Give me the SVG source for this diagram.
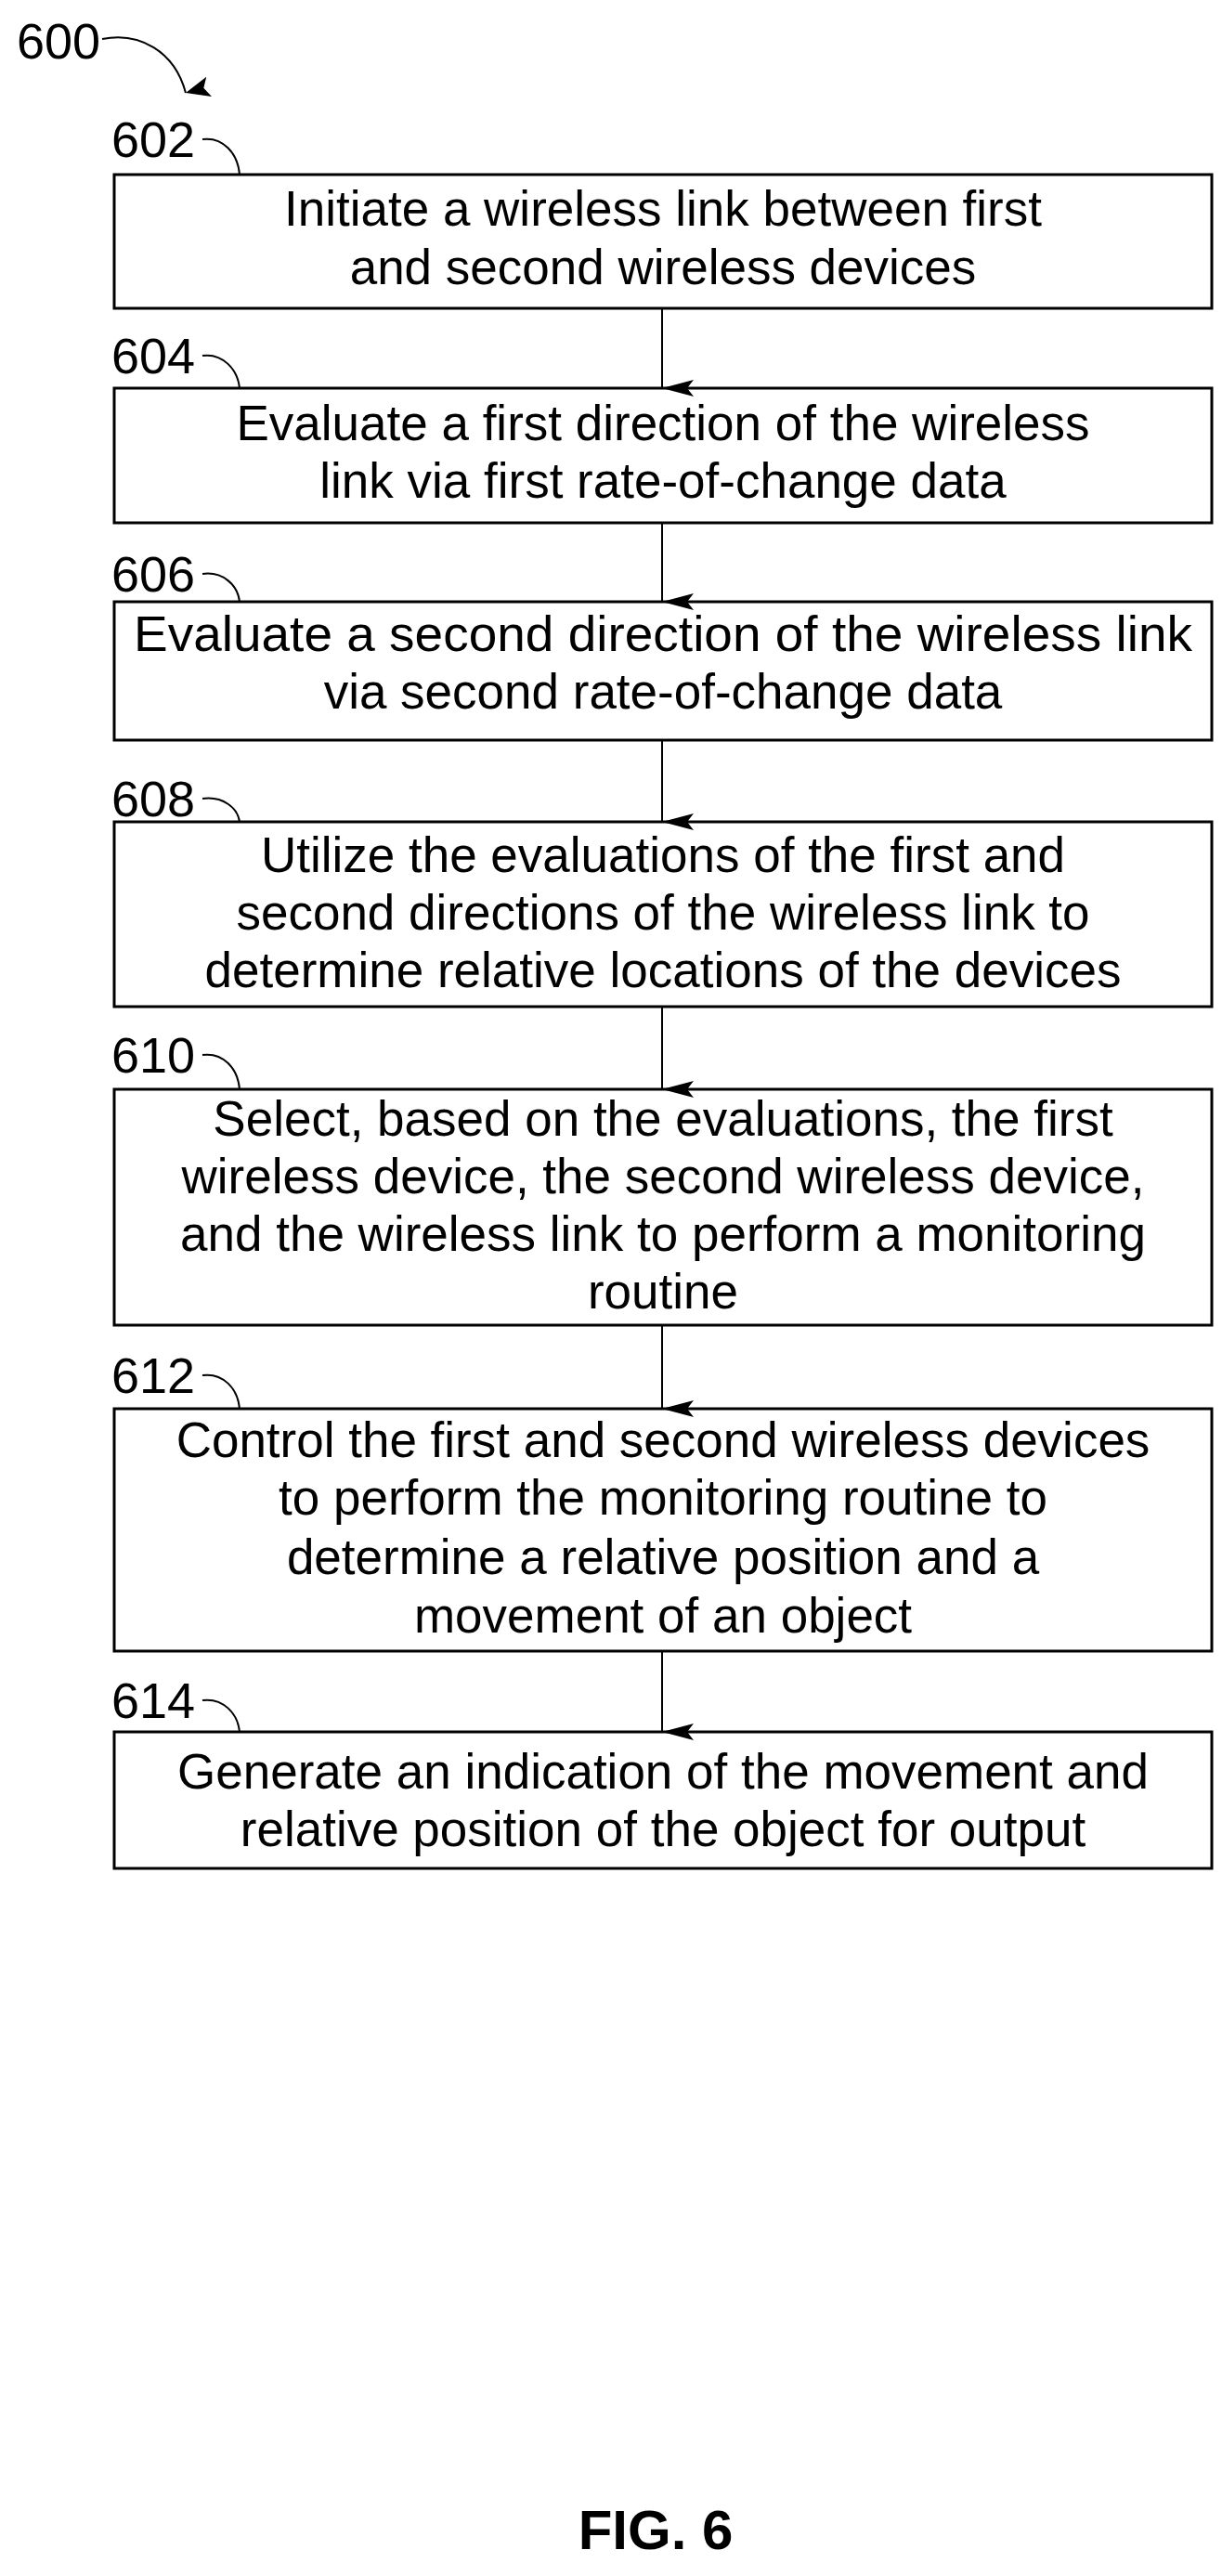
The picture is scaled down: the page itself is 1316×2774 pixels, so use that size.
<svg xmlns="http://www.w3.org/2000/svg" width="1316" height="2774" viewBox="0 0 1316 2774">
<style>
.box{fill:#fff;stroke:#000;stroke-width:3}
.t{font-family:"Liberation Sans",Arial,sans-serif;font-size:53px;text-anchor:middle;fill:#000}
.lb{font-family:"Liberation Sans",Arial,sans-serif;font-size:54px;fill:#000}
.ln{fill:none;stroke:#000;stroke-width:2}
</style>
<defs><marker id="ah" markerWidth="18" markerHeight="34" refX="9" refY="34" orient="auto" markerUnits="userSpaceOnUse" viewBox="0 0 18 34"><path d="M0,0 L9,7 L18,0 L9,34 Z" fill="#000"/></marker>
<marker id="ad" markerWidth="22" markerHeight="26" refX="11" refY="26" orient="auto" markerUnits="userSpaceOnUse" viewBox="0 0 22 26"><path d="M0,0 L11,6 L22,0 L11,26 Z" fill="#000"/></marker></defs>
<rect width="1316" height="2774" fill="#fff"/>
<g id="title600"><text class="lb" x="18" y="63">600</text><path class="ln" d="M110,42 C150,34 188,55 200,100" marker-end="url(#ad)"/></g>
<g id="n602"><text class="lb" x="120" y="169">602</text><path class="ln" d="M218,150 C240,147 256,165 258,188"/><rect class="box" x="123" y="188" width="1182" height="144"/><text class="t" x="714" y="243">Initiate a wireless link between first</text><text class="t" x="714" y="306">and second wireless devices</text></g>
<g id="n604"><text class="lb" x="120" y="402">604</text><path class="ln" d="M218,383 C240,380 256,398 258,418"/><rect class="box" x="123" y="418" width="1182" height="145"/><text class="t" x="714" y="474">Evaluate a first direction of the wireless</text><text class="t" x="714" y="536">link via first rate-of-change data</text></g>
<g id="n606"><text class="lb" x="120" y="637">606</text><path class="ln" d="M218,618 C240,615 256,630 258,648"/><rect class="box" x="123" y="648" width="1182" height="149"/><text class="t" x="714" y="701" textLength="1140" lengthAdjust="spacingAndGlyphs">Evaluate a second direction of the wireless link</text><text class="t" x="714" y="763">via second rate-of-change data</text></g>
<g id="n608"><text class="lb" x="120" y="879">608</text><path class="ln" d="M218,860 C240,857 256,870 258,885"/><rect class="box" x="123" y="885" width="1182" height="199"/><text class="t" x="714" y="939">Utilize the evaluations of the first and</text><text class="t" x="714" y="1001">second directions of the wireless link to</text><text class="t" x="714" y="1063">determine relative locations of the devices</text></g>
<g id="n610"><text class="lb" x="120" y="1155">610</text><path class="ln" d="M218,1136 C240,1133 256,1150 258,1173"/><rect class="box" x="123" y="1173" width="1182" height="254"/><text class="t" x="714" y="1223">Select, based on the evaluations, the first</text><text class="t" x="714" y="1285">wireless device, the second wireless device,</text><text class="t" x="714" y="1347">and the wireless link to perform a monitoring</text><text class="t" x="714" y="1409">routine</text></g>
<g id="n612"><text class="lb" x="120" y="1500">612</text><path class="ln" d="M218,1481 C240,1478 256,1495 258,1517"/><rect class="box" x="123" y="1517" width="1182" height="261"/><text class="t" x="714" y="1569">Control the first and second wireless devices</text><text class="t" x="714" y="1631">to perform the monitoring routine to</text><text class="t" x="714" y="1695">determine a relative position and a</text><text class="t" x="714" y="1758">movement of an object</text></g>
<g id="n614"><text class="lb" x="120" y="1850">614</text><path class="ln" d="M218,1831 C240,1828 256,1845 258,1865"/><rect class="box" x="123" y="1865" width="1182" height="147"/><text class="t" x="714" y="1926">Generate an indication of the movement and</text><text class="t" x="714" y="1988">relative position of the object for output</text></g>
<g id="connectors">
<path class="ln" d="M713,332 V418" marker-end="url(#ah)"/>
<path class="ln" d="M713,563 V648" marker-end="url(#ah)"/>
<path class="ln" d="M713,797 V885" marker-end="url(#ah)"/>
<path class="ln" d="M713,1084 V1173" marker-end="url(#ah)"/>
<path class="ln" d="M713,1427 V1517" marker-end="url(#ah)"/>
<path class="ln" d="M713,1778 V1865" marker-end="url(#ah)"/>
</g>
<text x="706" y="2745" font-family="'Liberation Sans',Arial,sans-serif" font-size="60" font-weight="bold" text-anchor="middle">FIG. 6</text>
</svg>
